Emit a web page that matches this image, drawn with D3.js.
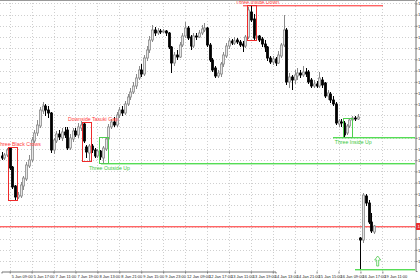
<!DOCTYPE html>
<html><head><meta charset="utf-8">
<script src="https://cdn.jsdelivr.net/npm/d3@7/dist/d3.min.js"></script>
<style>html,body{margin:0;padding:0;background:#fff;overflow:hidden}svg{display:block}</style>
</head><body><svg id="c" width="420" height="280"></svg>
<script>
// ---- data (bars, prices) ----
const opens = [1.1844,1.1842,1.1845,1.1852,1.1833,1.1814,1.1803,1.1804,1.1814,1.1821,
1.1834,1.1840,1.1859,1.1867,1.1874,1.1889,1.1894,1.1890,1.1887,1.1850,
1.1859,1.1866,1.1862,1.1868,1.1870,1.1852,1.1861,1.1869,1.1865,1.1872,
1.1876,1.1853,1.1847,1.1854,1.1850,1.1844,1.1849,1.1842,1.1851,1.1861,
1.1873,1.1878,1.1875,1.1885,1.1890,1.1887,1.1896,1.1903,1.1908,1.1914,
1.1922,1.1930,1.1926,1.1942,1.1950,1.1960,1.1970,1.1967,1.1969,1.1968,
1.1969,1.1967,1.1953,1.1937,1.1945,1.1943,1.1955,1.1964,1.1972,1.1963,
1.1954,1.1964,1.1963,1.1967,1.1970,1.1972,1.1955,1.1940,1.1932,1.1924,
1.1926,1.1936,1.1944,1.1954,1.1959,1.1957,1.1960,1.1958,1.1956,1.1954,
1.1963,1.1988,1.1981,1.1962,1.1964,1.1961,1.1956,1.1953,1.1942,1.1938,
1.1941,1.1937,1.1944,1.1955,1.1970,1.1918,1.1923,1.1920,1.1924,1.1927,
1.1925,1.1928,1.1928,1.1920,1.1914,1.1916,1.1914,1.1920,1.1917,1.1904,
1.1906,1.1900,1.1896,1.1876,1.1878,1.1877,1.1867,1.1874,1.1880,1.1882,
1.1881,1.1762,1.1760,1.1804,1.1797,1.1778,1.1768];
const highs = [1.1848,1.1847,1.1852,1.1853,1.1834,1.1815,1.1808,1.1818,1.1824,1.1838,
1.1845,1.1863,1.1870,1.1880,1.1893,1.1898,1.1896,1.1894,1.1888,1.1862,
1.1869,1.1870,1.1872,1.1873,1.1873,1.1866,1.1872,1.1872,1.1877,1.1879,
1.1878,1.1855,1.1856,1.1856,1.1852,1.1851,1.1850,1.1854,1.1863,1.1876,
1.1881,1.1883,1.1888,1.1893,1.1894,1.1899,1.1906,1.1912,1.1918,1.1926,
1.1934,1.1936,1.1945,1.1954,1.1964,1.1975,1.1973,1.1972,1.1971,1.1971,
1.1970,1.1968,1.1954,1.1948,1.1950,1.1958,1.1967,1.1978,1.1974,1.1965,
1.1967,1.1967,1.1970,1.1975,1.1977,1.1973,1.1957,1.1942,1.1934,1.1930,
1.1938,1.1948,1.1957,1.1962,1.1961,1.1963,1.1962,1.1960,1.1959,1.1965,
1.1993,1.1995,1.1986,1.1966,1.1965,1.1963,1.1960,1.1954,1.1944,1.1944,
1.1943,1.1949,1.1957,1.1985,1.1972,1.1927,1.1925,1.1930,1.1932,1.1930,
1.1934,1.1932,1.1930,1.1922,1.1920,1.1919,1.1928,1.1923,1.1918,1.1910,
1.1908,1.1904,1.1898,1.1881,1.1881,1.1879,1.1876,1.1882,1.1884,1.1884,
1.1886,1.1763,1.1807,1.1806,1.1800,1.1787,1.1775];
const lows = [1.1840,1.1840,1.1843,1.1830,1.1811,1.1800,1.1801,1.1802,1.1810,1.1819,
1.1832,1.1838,1.1857,1.1864,1.1872,1.1886,1.1884,1.1882,1.1847,1.1846,
1.1857,1.1860,1.1859,1.1862,1.1850,1.1850,1.1858,1.1863,1.1862,1.1869,
1.1857,1.1842,1.1839,1.1847,1.1842,1.1842,1.1840,1.1837,1.1849,1.1859,
1.1871,1.1873,1.1873,1.1882,1.1884,1.1885,1.1894,1.1900,1.1906,1.1911,
1.1920,1.1923,1.1924,1.1939,1.1947,1.1958,1.1964,1.1965,1.1966,1.1967,
1.1964,1.1951,1.1927,1.1934,1.1940,1.1942,1.1953,1.1962,1.1960,1.1950,
1.1952,1.1960,1.1962,1.1965,1.1968,1.1953,1.1938,1.1928,1.1922,1.1922,
1.1923,1.1933,1.1942,1.1951,1.1955,1.1955,1.1956,1.1953,1.1948,1.1952,
1.1961,1.1978,1.1960,1.1959,1.1958,1.1953,1.1948,1.1939,1.1936,1.1935,
1.1934,1.1936,1.1942,1.1953,1.1915,1.1912,1.1910,1.1916,1.1920,1.1922,
1.1923,1.1923,1.1916,1.1912,1.1912,1.1912,1.1912,1.1912,1.1902,1.1900,
1.1897,1.1894,1.1875,1.1873,1.1873,1.1863,1.1865,1.1872,1.1878,1.1879,
1.1880,1.1731,1.1757,1.1794,1.1776,1.1767,1.1766];
const closes = [1.1842,1.1845,1.1850,1.1832,1.1813,1.1803,1.1805,1.1815,1.1822,1.1835,
1.1840,1.1860,1.1867,1.1875,1.1890,1.1894,1.1890,1.1887,1.1850,1.1860,
1.1866,1.1863,1.1868,1.1865,1.1852,1.1862,1.1869,1.1865,1.1873,1.1875,
1.1859,1.1848,1.1854,1.1850,1.1844,1.1849,1.1843,1.1852,1.1861,1.1873,
1.1878,1.1875,1.1885,1.1890,1.1887,1.1896,1.1903,1.1908,1.1914,1.1922,
1.1930,1.1926,1.1942,1.1950,1.1960,1.1970,1.1967,1.1969,1.1968,1.1969,
1.1967,1.1953,1.1937,1.1945,1.1943,1.1955,1.1964,1.1972,1.1962,1.1954,
1.1964,1.1963,1.1967,1.1971,1.1972,1.1955,1.1940,1.1930,1.1924,1.1927,
1.1936,1.1945,1.1954,1.1959,1.1957,1.1959,1.1958,1.1955,1.1954,1.1963,
1.1990,1.1980,1.1962,1.1964,1.1960,1.1956,1.1953,1.1942,1.1938,1.1941,
1.1937,1.1945,1.1955,1.1970,1.1918,1.1923,1.1920,1.1925,1.1927,1.1925,
1.1928,1.1926,1.1918,1.1914,1.1916,1.1914,1.1922,1.1915,1.1904,1.1907,
1.1900,1.1896,1.1877,1.1879,1.1877,1.1865,1.1874,1.1880,1.1882,1.1881,
1.1883,1.1760,1.1805,1.1797,1.1778,1.1769,1.1774];

const timeLabels = ["5 Jan 09:00","5 Jan 17:00","7 Jan 11:00","7 Jan 19:00","8 Jan 13:00","8 Jan 21:00",
"9 Jan 15:00","9 Jan 23:00","12 Jan 09:00","12 Jan 17:00","13 Jan 11:00","13 Jan 19:00",
"14 Jan 13:00","14 Jan 21:00","15 Jan 15:00","16 Jan 09:00","16 Jan 17:00","19 Jan 11:00"];
const priceLabels = ["1.19966","1.19854","1.19742","1.19630","1.19518","1.19406","1.19294","1.19182",
"1.19070","1.18958","1.18846","1.18734","1.18622","1.18510","1.18398","1.18286","1.18174","1.18062",
"1.17950","1.17838","1.17726","1.17614","1.17502","1.17390"];

const patternNames = ["Three Black Crows","Downside Tasuki Gap","Three Outside Up","Three Inside Down","Three Inside Up"];
const patternFirstBar = [3,30,36,90,125];
const patternLastBar = [5,32,38,92,127];
const patternBullish = [false,false,true,false,true];

const levelPrices = [1.1995,1.1837,1.1863,1.1731,1.1774];
const levelFromBar = [88,36.3,121,129,-2];
const levelToBar = [139,160,160,160,160];
const levelBullish = [false,true,true,true,false];
const alertLevel = 1.1774;
const arrowBar = 137.3;
const arrowPrice = 1.1731;

// ---- drawing ----
const W=420,H=280,R=415,B=271;
const svg=d3.select('#c');
svg.append('rect').attr('width',W).attr('height',H).attr('fill','#fff');
const x=d3.scaleLinear().domain([0,100]).range([1.5,275.5]);
const y=d3.scaleLinear().domain([1.2,1.1729]).range([0,B]);
const font='"Liberation Sans", Arial, sans-serif';

svg.append('clipPath').attr('id','clip').append('rect').attr('x',0).attr('y',0).attr('width',R).attr('height',B);
const plot=svg.append('g').attr('clip-path','url(#clip)');

const priceTicks=priceLabels.map(Number);
const timeBars=timeLabels.map((d,i)=>3+8*i);

// grid
plot.append('g').selectAll('line').data(priceTicks).join('line')
 .attr('x1',0).attr('x2',R).attr('y1',d=>Math.round(y(d))+0.5).attr('y2',d=>Math.round(y(d))+0.5)
 .attr('stroke','#cfcfcf').attr('stroke-dasharray','1,2');
plot.append('g').selectAll('line').data(timeBars).join('line')
 .attr('y1',0).attr('y2',B).attr('x1',d=>Math.round(x(d))+0.5).attr('x2',d=>Math.round(x(d))+0.5)
 .attr('stroke','#cfcfcf').attr('stroke-dasharray','1,2');

// level lines (drawn as 1px-high filled bands)
plot.append('g').selectAll('rect').data(levelPrices).join('rect')
 .attr('x',(d,i)=>Math.round(x(levelFromBar[i])))
 .attr('width',(d,i)=>Math.round(x(levelToBar[i])-x(levelFromBar[i])))
 .attr('y',d=>Math.round(y(d))).attr('height',1.4)
 .attr('fill',(d,i)=>levelBullish[i]?'#55dd55':'#ff6464');

// candles
const idx=d3.range(opens.length);
const up=i=>closes[i]>=opens[i];
const cg=plot.append('g');
cg.selectAll('line').data(idx).join('line')
 .attr('x1',i=>Math.round(x(i))+0.5).attr('x2',i=>Math.round(x(i))+0.5)
 .attr('y1',i=>y(highs[i])).attr('y2',i=>y(lows[i]))
 .attr('stroke',i=>up(i)?'#8a8a8a':'#000').attr('stroke-width',1);
cg.selectAll('rect').data(idx).join('rect')
 .attr('x',i=>Math.round(x(i))-0.5).attr('width',2)
 .attr('y',i=>y(Math.max(opens[i],closes[i])))
 .attr('height',i=>Math.max(1,Math.abs(y(opens[i])-y(closes[i]))))
 .attr('fill',i=>up(i)?'#e6e6e6':'#000')
 .attr('stroke',i=>up(i)?'#8a8a8a':'#000').attr('stroke-width',0.8);

// pattern boxes and names
const pats=d3.range(patternNames.length).map(i=>{
  const bars=d3.range(patternFirstBar[i],patternLastBar[i]+1);
  return {i,name:patternNames[i],bull:patternBullish[i],
    x0:x(patternFirstBar[i])-1.5,x1:x(patternLastBar[i])+2.5,
    top:d3.max(bars,b=>highs[b]),bot:d3.min(bars,b=>lows[b])};
});
plot.append('g').attr('shape-rendering','crispEdges').selectAll('rect').data(pats).join('rect')
 .attr('x',d=>Math.round(d.x0)+0.5).attr('width',d=>Math.round(d.x1-d.x0))
 .attr('y',d=>Math.round(y(d.top))+0.5).attr('height',d=>Math.round(y(d.bot)-y(d.top)))
 .attr('fill','none').style('stroke',d=>d.bull?'#4fcf4f':'#ee2a2a').attr('stroke-width',1);
svg.append('g').selectAll('text').data(pats).join('text')
 .attr('x',d=>(d.x0+d.x1)/2+6)
 .attr('y',d=>d.bull?y(d.bot)+7:y(d.top)-1)
 .attr('text-anchor','middle').attr('font-family',font).attr('font-size',5.2)
 .attr('fill',d=>d.bull?'#3cc83c':'#ff3c3c').text(d=>d.name);

// arrow
const ax=x(arrowBar), ay=y(arrowPrice);
plot.append('path')
 .attr('d',`M${ax},${ay-13} L${ax+3},${ay-9} L${ax+1},${ay-9} L${ax+1},${ay-3} L${ax-1},${ay-3} L${ax-1},${ay-9} L${ax-3},${ay-9} Z`)
 .attr('fill','#fff').style('stroke','#4cc84c').attr('stroke-width',0.8);

// frame
svg.append('line').attr('x1',0).attr('x2',R).attr('y1',0.5).attr('y2',0.5).attr('stroke','#999');

// axes
const ya=d3.axisRight(y).tickValues(priceTicks).tickSize(2).tickFormat((d,i)=>priceLabels[i]);
const yg=svg.append('g').attr('transform',`translate(${R+0.5},0)`).call(ya);
yg.select('.domain').attr('stroke','#777');
yg.selectAll('line').attr('stroke','#777');
yg.selectAll('text').attr('font-family',font).attr('font-size',4.2).attr('fill','#222').attr('x',2.5);

const xa=d3.axisBottom(x).tickValues(timeBars).tickSize(2).tickFormat((d,i)=>timeLabels[i]);
const xg=svg.append('g').attr('transform',`translate(0,${B+0.5})`).call(xa);
xg.select('.domain').attr('stroke','#777');
xg.selectAll('line').attr('stroke','#777');
xg.selectAll('text').attr('font-family',font).attr('font-size',4).attr('fill','#222')
 .attr('text-anchor','start').attr('dx',1.5).attr('y',4).attr('dy','0.71em');

// alert price tag on axis
const ty=Math.round(y(alertLevel))+0.5;
svg.append('rect').attr('x',R+1).attr('y',ty-3.5).attr('width',14).attr('height',7).attr('fill','#e83030');
svg.append('text').attr('x',R+2.5).attr('y',ty+1.6).attr('font-family',font).attr('font-size',4.2)
 .attr('fill','#fff').text(d3.format('.5f')(alertLevel));
</script></body></html>
